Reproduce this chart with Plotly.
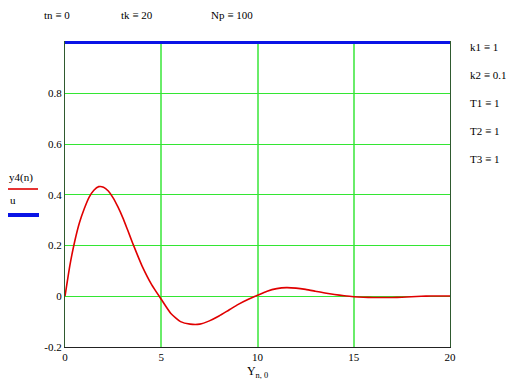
import plotly.graph_objects as go

# ---- data ----
n_vals = [0, 0.25, 0.5, 0.75, 1.0, 1.25, 1.5, 1.75, 2.0, 2.25, 2.5, 2.75, 3.0, 3.25,
          3.5, 3.75, 4.0, 4.5, 5.0, 5.5, 6.0, 6.5, 7.0,
          7.5, 8.0, 8.5, 9.0, 9.5, 10.0, 10.5, 11.0, 11.5, 12.0, 12.5, 13.0, 13.5,
          14.0, 14.5, 15.0, 15.5, 16.0, 16.5, 17.0, 17.5, 18.0, 18.5, 19.0, 19.5, 20.0]
y4_vals = [0.0, 0.12, 0.215, 0.29, 0.345, 0.39, 0.418, 0.432, 0.43, 0.415, 0.388,
           0.352, 0.31, 0.262, 0.212, 0.165, 0.12, 0.046, -0.012,
           -0.068, -0.10, -0.11, -0.11, -0.097, -0.078, -0.055, -0.032, -0.013, 0.004,
           0.02, 0.03, 0.034, 0.032, 0.027, 0.02, 0.013, 0.007, 0.002, -0.002,
           -0.004, -0.005, -0.005, -0.005, -0.004, -0.002, 0.0, 0.001, 0.001, 0.001]
u_x = [0, 20]
u_vals = [1, 1]

x_ticks = [0, 5, 10, 15, 20]
y_ticks = [-0.2, 0, 0.2, 0.4, 0.6, 0.8]
y_ticklabels = ["-0.2", "0", "0.2", "0.4", "0.6", "0.8"]

top_params = ["tn \u2261 0", "tk \u2261 20", "Np \u2261 100"]
right_params = ["k1 \u2261 1", "k2 \u2261 0.1", "T1 \u2261 1", "T2 \u2261 1", "T3 \u2261 1"]

# the page body adds an 8px offset; layout is expressed in page pixels minus that
OFF = 8
W, H = 514 - OFF, 387 - OFF
L, R, T, B = 65 - OFF, 64, 41 - OFF, 40

FONT = "Liberation Serif, Times New Roman, serif"
GRID = "#33e633"

fig = go.Figure()
fig.add_trace(go.Scatter(x=n_vals, y=y4_vals, mode="lines",
                         line=dict(color="#e00000", width=1.6, shape="spline", smoothing=0.5),
                         showlegend=False))
fig.add_trace(go.Scatter(x=u_x, y=u_vals, mode="lines",
                         line=dict(color="#0a14e6", width=3), showlegend=False))

fig.update_layout(
    template="none",
    width=W, height=H,
    margin=dict(l=L, r=R, t=T, b=B, autoexpand=False),
    paper_bgcolor="white", plot_bgcolor="white",
    font=dict(family=FONT, size=11, color="black"),
    xaxis=dict(range=[0, 20], tickvals=x_ticks, ticktext=[str(v) for v in x_ticks],
               showgrid=True, gridcolor="#6aec6a", gridwidth=2,
               showline=True, linecolor="#222222", linewidth=1.2,
               zeroline=False, ticks="", ticklen=0,
               title=dict(text="Y<sub>n, 0</sub>", standoff=4,
                          font=dict(family=FONT, size=12))),
    yaxis=dict(range=[-0.2, 1.006], tickvals=y_ticks, ticktext=y_ticklabels,
               showgrid=True, gridcolor=GRID, gridwidth=1,
               showline=True, linecolor="#2f5a2f", linewidth=1.3, mirror=True,
               zeroline=False, ticks="", ticklen=0),
)


def px2x(px):
    return (px - OFF - L) / (W - L - R)


def py2y(py):
    return 1 - (py - OFF - T) / (H - T - B)


# parameter definitions at top (anchored to the top edge of the figure)
top_x = [43, 120, 210]
for txt, px in zip(top_params, top_x):
    fig.add_annotation(text=txt, xref="paper", yref="paper", x=px2x(px), y=py2y(OFF),
                       xanchor="left", yanchor="top", showarrow=False, borderpad=0,
                       font=dict(family=FONT, size=11))

# parameter definitions at right
right_y = [47, 75, 103, 131, 159]
for txt, py in zip(right_params, right_y):
    fig.add_annotation(text=txt, xref="paper", yref="paper", x=px2x(468), y=py2y(py),
                       xanchor="left", yanchor="middle", showarrow=False,
                       font=dict(family=FONT, size=11))

# legend (label above line sample, like the original)
fig.add_annotation(text="y4(n)", xref="paper", yref="paper", x=px2x(7), y=py2y(177),
                   xanchor="left", yanchor="middle", showarrow=False,
                   font=dict(family=FONT, size=11))
fig.add_shape(type="line", xref="paper", yref="paper",
              x0=px2x(7), x1=px2x(38), y0=py2y(189), y1=py2y(189),
              line=dict(color="#e00000", width=1.6))
fig.add_annotation(text="u", xref="paper", yref="paper", x=px2x(8), y=py2y(200),
                   xanchor="left", yanchor="middle", showarrow=False,
                   font=dict(family=FONT, size=11))
fig.add_shape(type="line", xref="paper", yref="paper",
              x0=px2x(6), x1=px2x(39), y0=py2y(215), y1=py2y(215),
              line=dict(color="#0a14e6", width=4))

fig.write_html("out.html")
